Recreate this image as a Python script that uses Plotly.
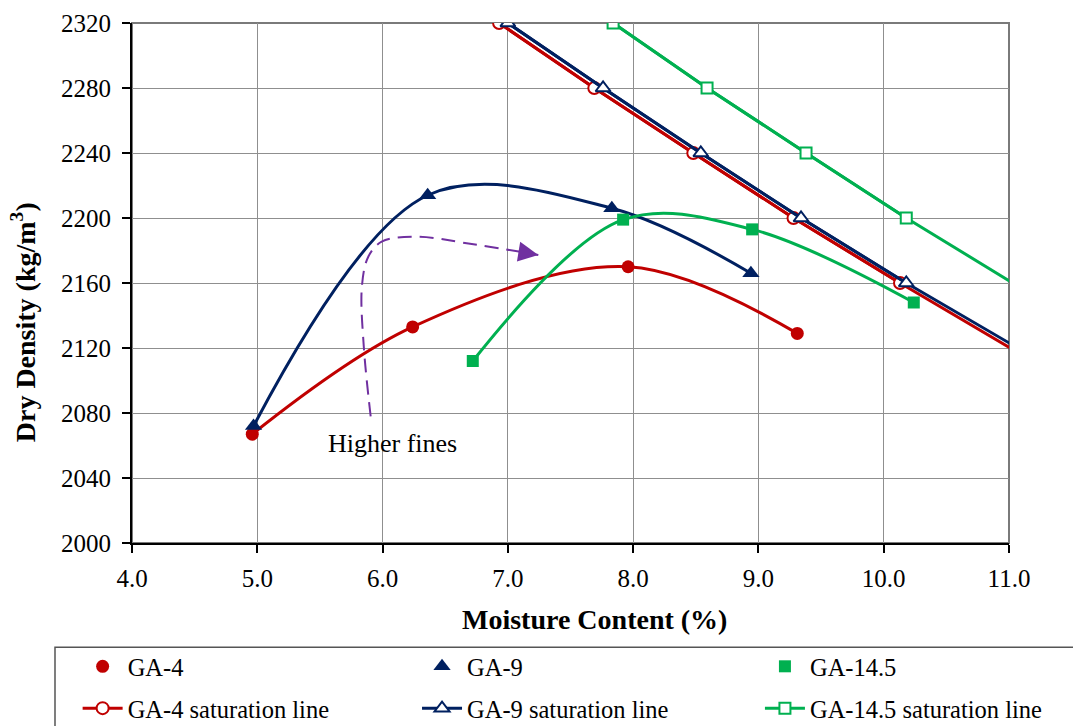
import plotly.graph_objects as go

FONT = "Liberation Serif"

RED = "#C00000"
NAVY = "#002060"
GREEN = "#00B050"
PURPLE = "#7030A0"
GRID = "#8F8F8F"

# Compaction test results: moisture content (%) vs dry density (kg/m3)
ga4_w = [4.96, 6.24, 7.96, 9.31]
ga4_rho = [2067, 2133, 2170, 2129]
ga9_w = [4.97, 6.36, 7.83, 8.94]
ga9_rho = [2072, 2214, 2206, 2166]
ga145_w = [6.72, 7.92, 8.95, 10.24]
ga145_rho = [2112, 2199, 2193, 2148]

# Saturation (zero air voids) lines
sat_rho = [2320, 2280, 2240, 2200, 2160, 2120]
ga4_sat_w = [6.93, 7.69, 8.48, 9.28, 10.13, 11.01]
ga9_sat_w = [7.00, 7.76, 8.54, 9.34, 10.18, 11.07]
ga145_sat_rho = [2320, 2280, 2240, 2200, 2160]
ga145_sat_w = [7.84, 8.59, 9.38, 10.18, 11.03]

# Axis ticks
x_ticks = [4.0, 5.0, 6.0, 7.0, 8.0, 9.0, 10.0, 11.0]
y_ticks = [2000, 2040, 2080, 2120, 2160, 2200, 2240, 2280, 2320]

# Path of the "Higher fines" trend arrow
arrow_w = [5.905, 5.850, 5.835, 5.886, 5.993, 6.272, 6.671, 7.243]
arrow_rho = [2077.9, 2120.9, 2157.8, 2176.2, 2185.4, 2188.5, 2184.5, 2177.3]

X_MIN, X_MAX = x_ticks[0], x_ticks[-1]

fig = go.Figure()


def add_curve(w, rho, color, symbol, size, name, legend):
    # smoothed compaction curve, markers carry the legend entry
    fig.add_trace(go.Scatter(
        x=w, y=rho, mode="lines", showlegend=False, hoverinfo="skip",
        line=dict(color=color, width=3, shape="spline", smoothing=1.0),
    ))
    fig.add_trace(go.Scatter(
        x=w, y=rho, mode="markers", name=name, legend=legend,
        legendgroup=name, legendrank=1,
        marker=dict(color=color, symbol=symbol, size=size),
    ))


def add_sat(w, rho, color, symbol, size, name, legend):
    # full line to the frame edge, markers only on points inside the axis range
    fig.add_trace(go.Scatter(
        x=w, y=rho, mode="lines", showlegend=False, hoverinfo="skip",
        line=dict(color=color, width=3),
    ))
    inside = [i for i, v in enumerate(w) if v <= X_MAX]
    fig.add_trace(go.Scatter(
        x=[w[i] for i in inside], y=[rho[i] for i in inside],
        mode="lines+markers", name=name, legend=legend, legendgroup=name,
        legendrank=2,
        line=dict(color=color, width=3),
        marker=dict(color="white", symbol=symbol, size=size,
                    line=dict(color=color, width=2)),
    ))


add_sat(ga4_sat_w, sat_rho, RED, "circle", 12, "GA-4 saturation line", "legend")
add_sat(ga9_sat_w, sat_rho, NAVY, "triangle-up", 13, "GA-9 saturation line", "legend2")
add_sat(ga145_sat_w, ga145_sat_rho, GREEN, "square", 11, "GA-14.5 saturation line", "legend3")

add_curve(ga4_w, ga4_rho, RED, "circle", 13, "GA-4", "legend")
add_curve(ga9_w, ga9_rho, NAVY, "triangle-up", 15, "GA-9", "legend2")
add_curve(ga145_w, ga145_rho, GREEN, "square", 12, "GA-14.5", "legend3")

# dashed trend arrow
fig.add_trace(go.Scatter(
    x=arrow_w, y=arrow_rho, mode="lines", showlegend=False, hoverinfo="skip",
    line=dict(color=PURPLE, width=2, dash="14px,8px", shape="spline", smoothing=1.0),
))
fig.add_annotation(
    x=arrow_w[-1], y=arrow_rho[-1], ax=-14, ay=-2.3, text="",
    showarrow=True, arrowhead=2, arrowsize=2, arrowwidth=2, arrowcolor=PURPLE,
)
fig.add_annotation(
    x=6.08, y=2061, text="Higher fines", showarrow=False,
    font=dict(family=FONT, size=26, color="black"),
)

# axis titles
fig.add_annotation(
    xref="paper", yref="paper", x=0.527, y=-0.148, xanchor="center", yanchor="middle",
    text="<b>Moisture Content (%)</b>", showarrow=False,
    font=dict(family=FONT, size=28, color="black"),
)
fig.add_annotation(
    xref="paper", yref="paper", x=-0.124, y=0.425, xanchor="center", yanchor="middle",
    text="<b>Dry Density (kg/m<sup>3</sup>)</b>", textangle=-90, showarrow=False,
    font=dict(family=FONT, size=28, color="black"),
)

# grey frame on top/right of the plot area
fig.add_shape(type="rect", xref="paper", yref="paper", x0=0, x1=1, y0=0, y1=1,
              line=dict(color="#7A7A7A", width=2), layer="below")
# legend box
fig.add_shape(type="rect", xref="paper", yref="paper", x0=-0.0878, x1=1.08,
              y0=-0.38, y1=-0.2006, line=dict(color="#555555", width=1.5))

legend_font = dict(family=FONT, size=24.5, color="black")
legend_common = dict(
    orientation="v", xanchor="left", yanchor="top", y=-0.194,
    font=legend_font,
    bgcolor="rgba(0,0,0,0)", tracegroupgap=7, itemwidth=40,
)

tick_font = dict(family=FONT, size=25, color="black")

fig.update_layout(
    width=1073, height=726,
    margin=dict(l=132, r=64, t=23, b=183, autoexpand=False),
    paper_bgcolor="white", plot_bgcolor="white",
    font=dict(family=FONT, size=23, color="black"),
    showlegend=True,
    legend=dict(x=-0.062, **legend_common),
    legend2=dict(x=0.325, **legend_common),
    legend3=dict(x=0.716, **legend_common),
    xaxis=dict(
        range=[X_MIN, X_MAX], tickvals=x_ticks,
        ticktext=[f"{v:.1f}" for v in x_ticks],
        showgrid=True, gridcolor=GRID, gridwidth=1.3,
        showline=True, linecolor="black", linewidth=2,
        ticks="outside", ticklen=8, tickwidth=1.5, tickcolor="black",
        ticklabelstandoff=4, zeroline=False,
        tickfont=tick_font,
    ),
    yaxis=dict(
        range=[y_ticks[0], y_ticks[-1]], tickvals=y_ticks,
        showgrid=True, gridcolor=GRID, gridwidth=1.3,
        showline=True, linecolor="black", linewidth=2,
        ticks="outside", ticklen=8, tickwidth=1.5, tickcolor="black",
        ticklabelstandoff=6, zeroline=False,
        tickfont=tick_font,
    ),
)

fig.write_html("out.html")
